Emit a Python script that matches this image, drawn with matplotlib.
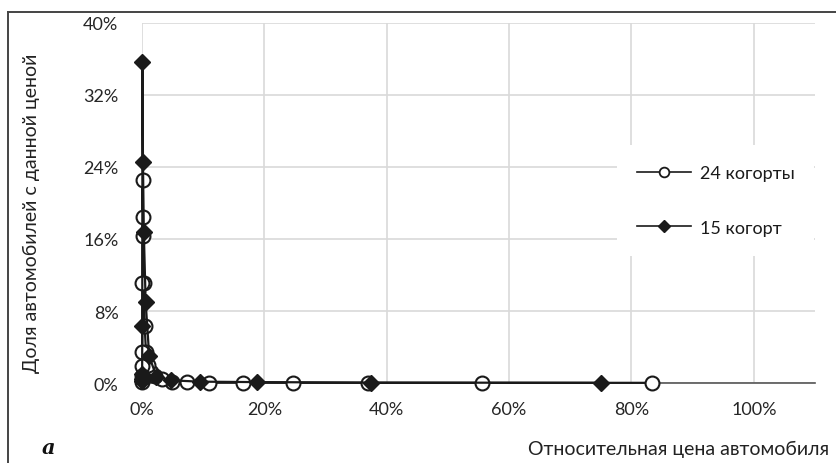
import numpy as np
import matplotlib.pyplot as plt
from matplotlib.ticker import FuncFormatter
from matplotlib.lines import Line2D

plt.rcParams['font.family'] = ['Lato', 'DejaVu Sans']

""" 1. Data (read off the picture) """

# relative price of the car, % (one value per cohort)
price_24 = [83.3, 55.6, 37.0, 24.7, 16.5, 11.0, 7.3, 4.9, 3.25, 2.17, 1.45, 0.96,
            0.64, 0.43, 0.29, 0.19, 0.13, 0.085, 0.056, 0.038, 0.025, 0.017, 0.011, 0.0075]
share_24 = [0.02, 0.02, 0.02, 0.03, 0.05, 0.05, 0.1, 0.15, 0.4, 0.8, 1.2, 2.0,
            3.5, 6.3, 11.1, 16.3, 18.4, 22.5, 11.1, 3.5, 1.9, 0.8, 0.3, 0.1]

price_15 = [75.0, 37.5, 18.75, 9.4, 4.7, 2.35, 1.17, 0.59, 0.29, 0.15, 0.07,
            0.037, 0.018, 0.009, 0.005]
share_15 = [0.02, 0.05, 0.1, 0.15, 0.3, 0.7, 3.0, 9.0, 16.8, 24.6, 35.7,
            6.3, 1.0, 0.4, 0.2]

label_24 = '24 когорты'
label_15 = '15 когорт'

""" 2. The figure """

fig = plt.figure(figsize=(8.37, 4.64), dpi=100)
ax = fig.add_axes([0.1697, 0.1724, 0.8040, 0.7759])

ink = '#1a1a1a'
ax.plot(price_24, share_24, color=ink, lw=1.6, marker='o', ms=10,
        mfc='white', mec=ink, mew=1.5, label=label_24, zorder=3, clip_on=False)
ax.plot(price_15, share_15, color=ink, lw=1.6, marker='D', ms=8,
        mfc=ink, mec=ink, label=label_15, zorder=4, clip_on=False)

# axes limits / ticks
ax.set_xlim(0, 110)
ax.set_ylim(0, 40)
ax.set_xticks(np.arange(0, 101, 20))
ax.set_yticks(np.arange(0, 41, 8))
pct = FuncFormatter(lambda v, p: '%d%%' % v)
ax.xaxis.set_major_formatter(pct)
ax.yaxis.set_major_formatter(pct)
ax.tick_params(length=0, labelsize=13, colors='#262626')
ax.tick_params(axis='y', pad=17)
ax.tick_params(axis='x', pad=13)

ax.grid(True, color='#d9d9d9', lw=1.2)
ax.set_axisbelow(True)
for s in ['left', 'right', 'top']:
    ax.spines[s].set_visible(False)
ax.spines['bottom'].set_color('#555555')
ax.spines['bottom'].set_linewidth(1.2)
ax.spines['bottom'].set_zorder(2)

# legend with white box that hides grid
h24 = Line2D([], [], color=ink, lw=1.2, marker='o', ms=7, mfc='white', mec=ink, mew=1.3)
h15 = Line2D([], [], color=ink, lw=1.2, marker='D', ms=6.5, mfc=ink, mec=ink)
leg = ax.legend([h24, h15], [label_24, label_15], loc='upper left',
                bbox_to_anchor=(0.692, 0.686), frameon=True, fancybox=False,
                edgecolor='none', facecolor='white', framealpha=1,
                fontsize=13, handlelength=3.0, labelspacing=2.15,
                borderpad=1.1, handletextpad=0.5)
for t in leg.get_texts():
    t.set_color('#1a1a1a')

# axis titles
fig.text(0.037, 0.54, 'Доля автомобилей с данной ценой', rotation=90,
         ha='center', va='center', fontsize=14, color='#222222')
fig.text(0.991, 0.032, 'Относительная цена автомобиля', ha='right',
         va='center', fontsize=14, color='#222222')
fig.text(0.050, 0.035, 'a', ha='left', va='center', fontsize=15,
         family='DejaVu Serif', style='italic', weight='bold', color='#111111')

# outer frame (cropped at right and bottom)
fig.add_artist(Line2D([0.0096, 1.0], [0.972, 0.972], color='#444444', lw=1.4))
fig.add_artist(Line2D([0.0096, 0.0096], [0.0, 0.972], color='#444444', lw=1.4))

fig.savefig('out.png', dpi=100)
